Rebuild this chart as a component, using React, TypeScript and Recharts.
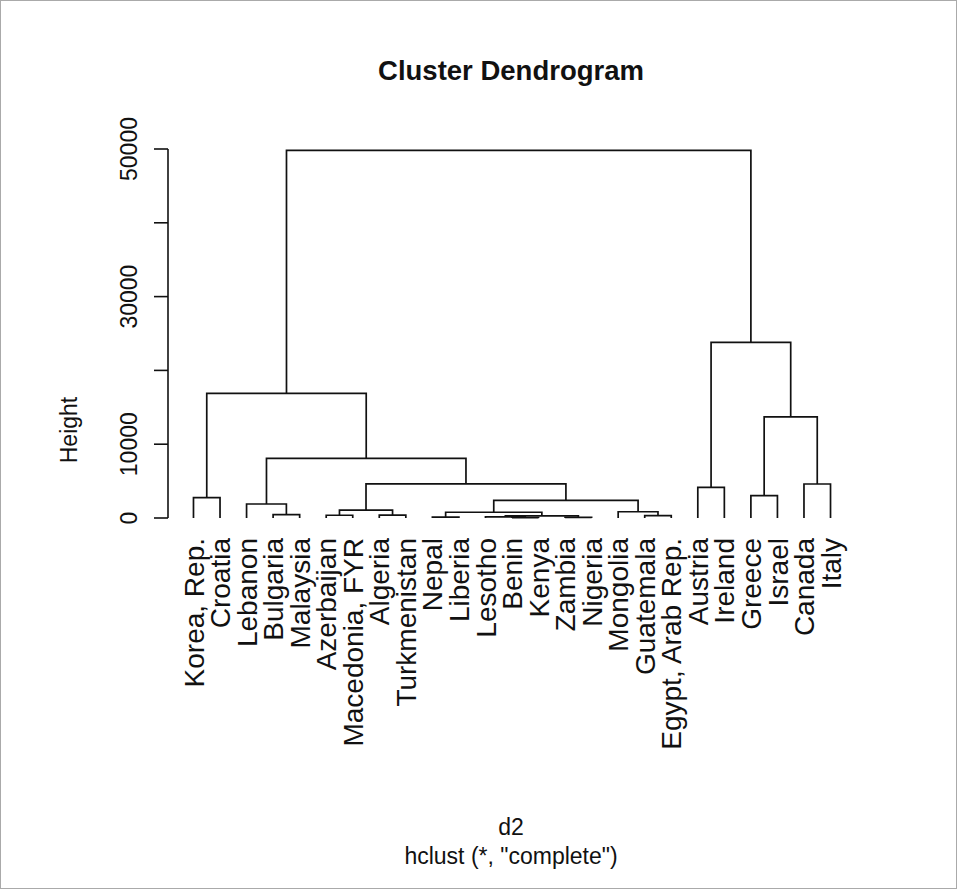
import { ComposedChart, Line, XAxis, YAxis } from "recharts";

// leaves, in the order the dendrogram draws them
const leafLabels = [
  "Korea, Rep.", "Croatia", "Lebanon", "Bulgaria", "Malaysia",
  "Azerbaijan", "Macedonia, FYR", "Algeria", "Turkmenistan", "Nepal",
  "Liberia", "Lesotho", "Benin", "Kenya", "Zambia",
  "Nigeria", "Mongolia", "Guatemala", "Egypt, Arab Rep.", "Austria",
  "Ireland", "Greece", "Israel", "Canada", "Italy",
];

// hclust-style merges: negative = leaf position, positive = earlier merge
const mergeLeft = [-13, -15, -10, -12, 4, -18, -6, -8, -4, 3, -17, 7, -3, 10, -1, -22, -20, 12, -24, 16, 13, 15, 17, 22];
const mergeRight = [-14, -16, -11, 1, 2, -19, -7, -9, -5, 5, 6, 8, 9, 11, -2, -23, -21, 14, -25, 19, 18, 21, 20, 23];
const mergeHeights = [50, 90, 110, 140, 280, 320, 370, 400, 470, 780, 850, 1080, 1900, 2390, 2750, 3020, 4160, 4620, 4610, 13690, 8090, 16900, 23800, 49820];

const heightTicks = [0, 10000, 20000, 30000, 40000, 50000];
const labelledTicks = [0, 10000, 30000, 50000];

const FONT = "'Liberation Sans', Arial, Helvetica, sans-serif";
const INK = "#111";

// x of each merge = midpoint of its two children
const nodeX: number[] = [];
const childPoint = (c: number) =>
  c < 0 ? { x: -c, y: 0 } : { x: nodeX[c - 1], y: mergeHeights[c - 1] };

const branches = mergeHeights.map((h, i) => {
  const a = childPoint(mergeLeft[i]);
  const b = childPoint(mergeRight[i]);
  nodeX[i] = (a.x + b.x) / 2;
  return [
    { x: a.x, y: a.y },
    { x: a.x, y: h },
    { x: b.x, y: h },
    { x: b.x, y: b.y },
  ];
});

const leafTicks = leafLabels.map((_, i) => i + 1);

function LeafTick({ x, y, payload }: any) {
  return (
    <text
      x={x}
      y={y}
      dy="0.36em"
      transform={`rotate(-90, ${x}, ${y})`}
      textAnchor="end"
      fontSize={28}
      fontFamily={FONT}
      fill={INK}
    >
      {leafLabels[payload.value - 1]}
    </text>
  );
}

function HeightTick({ x, y, payload }: any) {
  if (!labelledTicks.includes(payload.value)) return <g />;
  return (
    <text
      x={x}
      y={y}
      transform={`rotate(-90, ${x}, ${y})`}
      textAnchor="middle"
      fontSize={23}
      fontFamily={FONT}
      fill={INK}
    >
      {payload.value}
    </text>
  );
}

export default function App() {
  return (
    <div style={{ position: "relative", width: 957, height: 889, background: "#fff" }}>
      <style>{"body{margin:0}"}</style>
      <ComposedChart
        width={957}
        height={889}
        margin={{ top: 149, right: 101, bottom: 0, left: 0 }}
      >
        <XAxis
          dataKey="x"
          type="number"
          domain={[0.04, 25.96]}
          ticks={leafTicks}
          interval={0}
          axisLine={false}
          tickLine={false}
          tickSize={0}
          tickMargin={20}
          height={371}
          tick={<LeafTick />}
        />
        <YAxis
          type="number"
          domain={[0, 50000]}
          ticks={heightTicks}
          interval={0}
          width={168}
          tickSize={14}
          tickMargin={17}
          axisLine={{ stroke: INK, strokeWidth: 1.6 }}
          tickLine={{ stroke: INK, strokeWidth: 1.6 }}
          tick={<HeightTick />}
        />
        {branches.map((pts, i) => (
          <Line
            key={i}
            data={pts}
            dataKey="y"
            type="linear"
            stroke={INK}
            strokeWidth={1.7}
            dot={false}
            activeDot={false}
            isAnimationActive={false}
          />
        ))}
      </ComposedChart>
      <svg
        width={957}
        height={889}
        style={{ position: "absolute", left: 0, top: 0, pointerEvents: "none" }}
        fontFamily={FONT}
        fill={INK}
      >
        <rect x={0.5} y={0.5} width={956} height={888} fill="none" stroke="#aaa" strokeWidth={1} />
        <text x={511} y={80} textAnchor="middle" fontSize={27.5} fontWeight="bold">
          Cluster Dendrogram
        </text>
        <text x={77} y={430} textAnchor="middle" fontSize={23} transform="rotate(-90, 77, 430)">
          Height
        </text>
        <text x={511} y={835} textAnchor="middle" fontSize={23}>
          d2
        </text>
        <text x={511} y={864} textAnchor="middle" fontSize={23}>
          hclust (*, "complete")
        </text>
      </svg>
    </div>
  );
}
